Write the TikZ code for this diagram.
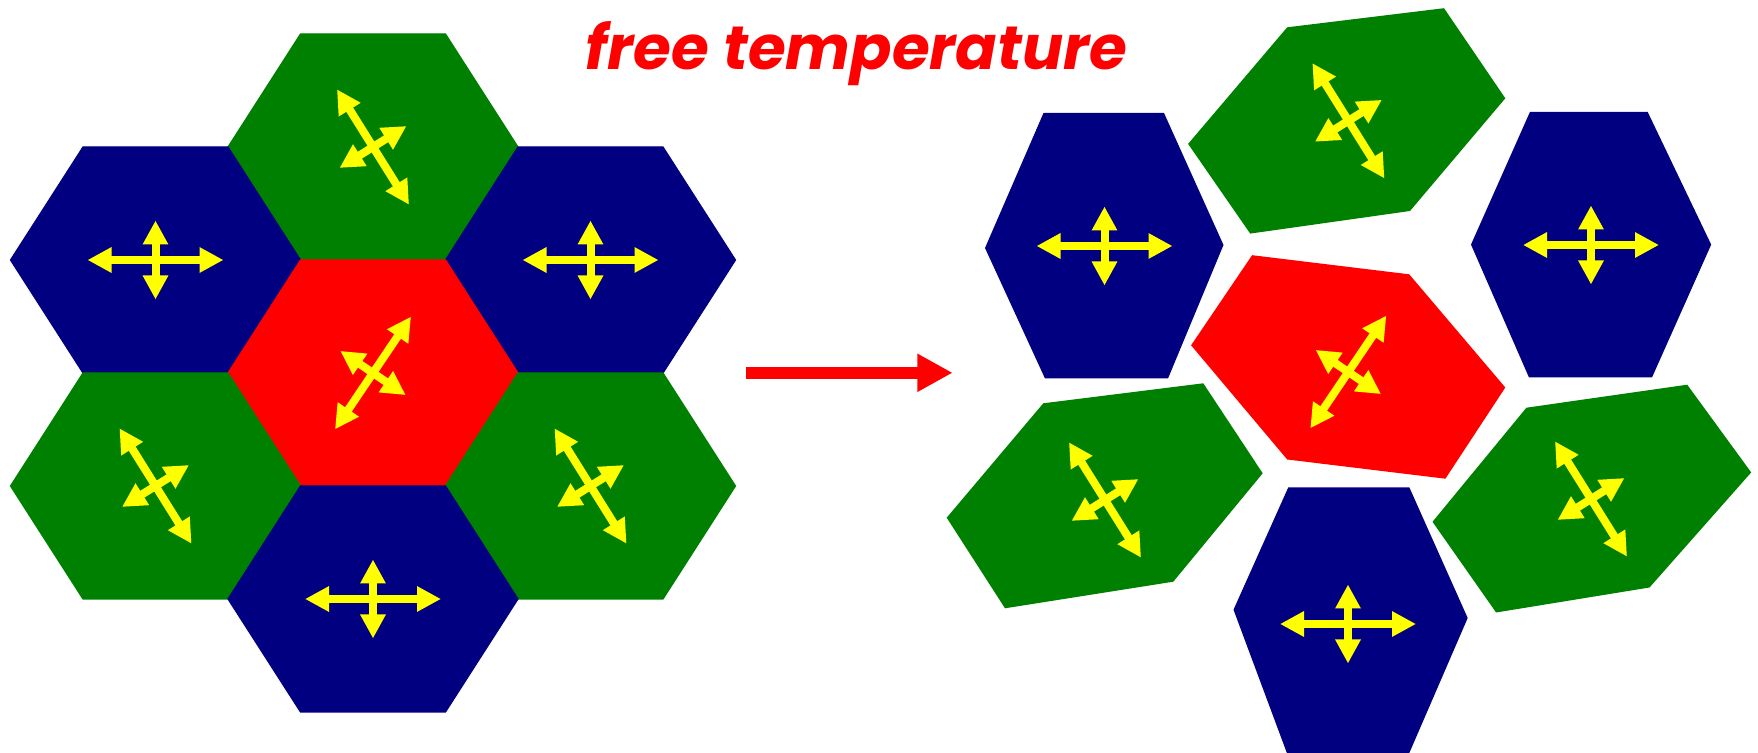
\documentclass[tikz,border=0pt]{standalone}
\usepackage{fontspec}
\newfontfamily\titlefont{Poppins}
\usetikzlibrary{arrows.meta}

\definecolor{cellblue}{RGB}{0,0,128}
\definecolor{cellgreen}{RGB}{0,128,0}
\definecolor{cellred}{RGB}{255,0,0}
\definecolor{moveyellow}{RGB}{255,255,0}

% two crossed double arrows in a cell: centre x, centre y, turn
\newcommand{\movecross}[3]{%
  \begin{scope}[shift={(#1,#2)}, rotate=#3]
    \draw[move] (-68,0) -- (68,0);
    \draw[move] (0,-39.5) -- (0,39.5);
  \end{scope}}

\begin{document}
\begin{tikzpicture}[x=0.5pt, y=-0.5pt,
    move/.style={moveyellow, line width=4pt,
      {Triangle[length=12pt,width=12pt]}-{Triangle[length=12pt,width=12pt]}},
    bigarrow/.style={cellred, line width=6.15pt, -{Triangle[length=17.7pt,width=17.9pt]}},
    title/.style={text=cellred, font=\titlefont\bfseries\itshape\fontsize{30.6}{36}\selectfont, inner sep=0pt}]
  \useasboundingbox (0,0) rectangle (1758,753);

  % Title
  \node[title, anchor=base west] (title) at (585,70) {free temperature};

  % Packed cells
  \foreach \cx/\cy/\col/\turn in {373/147/cellgreen/-58, 155.5/260/cellblue/0,
      590.5/260/cellblue/0, 373/373/cellred/56, 155.5/486/cellgreen/-58,
      590.5/486/cellgreen/-58, 373/599/cellblue/0} {
    \filldraw[\col, line width=0.6pt] (\cx,\cy) ++(-145,0) -- ++(72.5,-113) -- ++(145,0)
      -- ++(72.5,113) -- ++(-72.5,113) -- ++(-145,0) -- cycle;
    \movecross{\cx}{\cy}{\turn}
  }

  % Heating
  \coordinate (from) at (745.7,372.8);
  \coordinate (to) at (952.7,372.8);
  \draw[bigarrow] (from) -- (to);

  % Free cells
  \fill[cellblue] (985,248) -- (1043.5,113) -- (1164,113) -- (1223.5,245) -- (1168,378.5) -- (1045,378.5) -- cycle;
  \fill[cellblue] (1471,244.6) -- (1530,111.8) -- (1647.6,111.8) -- (1711.2,244.6) -- (1652,377.5) -- (1529,377.5) -- cycle;
  \fill[cellblue] (1233.5,609.7) -- (1288.3,487.3) -- (1409.3,487.3) -- (1467.7,618) -- (1408,756) -- (1288,756) -- cycle;
  \fill[cellgreen] (1188.1,143.9) -- (1287.2,27.3) -- (1444,8.2) -- (1505.3,98.3) -- (1410,211) -- (1250.2,233.6) -- cycle;
  \fill[cellred] (1191.1,345.3) -- (1252.1,255.2) -- (1409.2,274.3) -- (1505.3,387.5) -- (1445.4,478.7) -- (1287.2,459.5) -- cycle;
  \fill[cellgreen] (946.7,517.7) -- (1043.3,403.3) -- (1203.3,383.3) -- (1262.7,473.3) -- (1173.3,581.7) -- (1005,608.3) -- cycle;
  \fill[cellgreen] (1432.5,521.8) -- (1526.4,407.7) -- (1687.2,384.7) -- (1751.2,472.4) -- (1649.5,587.5) -- (1496.1,612.5) -- cycle;

  \movecross{1104.5}{246}{0}
  \movecross{1591}{245}{0}
  \movecross{1348}{624}{0}
  \movecross{1348.4}{120.8}{-58}
  \movecross{1348.3}{372}{56}
  \movecross{1105}{500}{-58}
  \movecross{1591}{499}{-58}
\end{tikzpicture}
\end{document}
